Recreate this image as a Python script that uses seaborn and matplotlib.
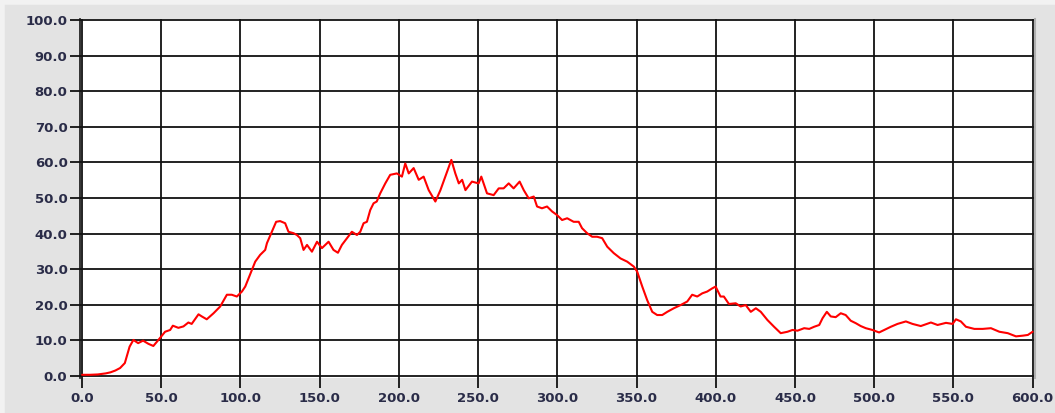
import matplotlib
matplotlib.use('Agg')
import matplotlib.pyplot as plt
from matplotlib.lines import Line2D
import pandas as pd
import seaborn as sns

sns.set_style('white')
plt.rcParams['font.family'] = ['DejaVu Sans']

# values
x_vals = [0, 5, 10, 15, 18, 21, 24, 27, 30, 32.4, 35.4, 38.5, 41.9, 45, 48.2, 52.4,
          55.6, 57.3, 60.8, 64, 67.1, 69.2, 73.5, 75.6, 78.7, 83, 87.2, 91.4, 94.5,
          97.7, 100.9, 103, 107.2, 109.3, 112.4, 115.6, 116.7, 119.8, 122.5, 125,
          128.2, 130.3, 133.5, 135.6, 137.7, 139.8, 142, 145.1, 148.3, 151.4, 155.6,
          158.7, 161.5, 164, 167.2, 170.3, 173.5, 175.6, 177.7, 179.8, 181.9, 184,
          186, 188.2, 191.4, 194.5, 198.7, 201.9, 204, 206.2, 209.3, 212.5, 215.6,
          218.8, 223, 226.2, 229.3, 233.1, 235.6, 237.8, 239.9, 242, 246.1, 250.3,
          252, 255.6, 259.8, 263, 266.1, 269.3, 272.4, 276.2, 278.8, 281.9, 285.1,
          287.2, 290.3, 293.5, 296.7, 299.8, 303, 306.2, 310.3, 313.5, 315.6, 318.8,
          322, 325.1, 328.3, 331.5, 335.6, 339.9, 344.1, 348.3, 350.4, 353.6, 356.7,
          359.9, 363, 366.2, 369.4, 373.5, 377.8, 382, 385.1, 388.3, 391.5, 394.6,
          397.8, 399.9, 403, 405.1, 408.3, 412.6, 415.7, 418.9, 422.1, 425.3, 428.4,
          432.6, 436.8, 441, 445.3, 448.4, 451.6, 455.8, 459, 462.1, 465.3, 467.4,
          470.1, 472.6, 475.7, 478.9, 482, 485.2, 488.4, 491.5, 494.7, 498.9, 503.1,
          506.3, 510.5, 514.7, 520, 524.2, 529.4, 535.8, 540, 545.3, 549.5, 551.6,
          554.7, 557.9, 563.2, 568.5, 573.7, 579, 584.3, 589.5, 593.8, 597, 600]
y_vals = [0.3, 0.3, 0.4, 0.7, 1.0, 1.5, 2.2, 3.6, 8.2, 10.1, 9.2, 9.9, 9.0, 8.4, 10.1, 12.4,
          12.9, 14.1, 13.5, 13.9, 15.0, 14.6, 17.3, 16.7, 15.9, 17.6, 19.5, 22.8, 22.8,
          22.3, 23.7, 25.1, 29.8, 32.1, 34.0, 35.4, 37.3, 40.5, 43.3, 43.5,
          42.9, 40.5, 40.1, 39.6, 38.7, 35.4, 36.8, 34.9, 37.7, 35.9, 37.7,
          35.4, 34.6, 36.8, 38.7, 40.5, 39.6, 40.5, 42.9, 43.3, 46.6, 48.5,
          49.0, 51.3, 54.1, 56.5, 56.9, 56.0, 59.7, 56.9, 58.4, 55.1, 56.0,
          52.2, 49.0, 52.2, 56.0, 60.7, 56.9, 54.1, 55.1, 52.2, 54.6, 54.1,
          56.0, 51.3, 50.8, 52.7, 52.7, 54.1, 52.7, 54.6, 52.2, 49.9, 50.4,
          47.6, 47.1, 47.6, 46.2, 45.2, 43.8, 44.3, 43.3, 43.3, 41.5, 40.1,
          39.1, 39.1, 38.7, 36.3, 34.5, 33.0, 32.1, 30.7, 29.3, 25.1, 21.3,
          18.0, 17.1, 17.1, 18.0, 19.0, 19.9, 20.9, 22.8, 22.3, 23.2, 23.7,
          24.6, 25.1, 22.3, 22.3, 20.2, 20.4, 19.5, 19.9, 18.0, 19.0, 18.0,
          15.7, 13.8, 12.0, 12.4, 12.9, 12.7, 13.4, 13.2, 13.8, 14.3, 16.2,
          18.0, 16.7, 16.5, 17.6, 17.1, 15.5, 14.8, 14.0, 13.4, 12.9, 12.2,
          12.9, 13.8, 14.6, 15.3, 14.6, 14.0, 15.0, 14.3, 14.9, 14.6, 15.9,
          15.3, 13.8, 13.2, 13.2, 13.4, 12.4, 12.0, 11.1, 11.3, 11.5, 12.4]
x_ticks = [0, 50, 100, 150, 200, 250, 300, 350, 400, 450, 500, 550, 600]
y_ticks = [0, 10, 20, 30, 40, 50, 60, 70, 80, 90, 100]

df = pd.DataFrame({'x': x_vals, 'y': y_vals})

fig = plt.figure(figsize=(10.55, 4.13), dpi=100)
fig.patch.set_facecolor('#e3e3e3')
# light frame on top and left edge, like the window border in the reference
fig.add_artist(Line2D([0, 1], [0.994, 0.994], transform=fig.transFigure, color='#f2f2f2', linewidth=4))
fig.add_artist(Line2D([0.002, 0.002], [0, 1], transform=fig.transFigure, color='#f2f2f2', linewidth=4))

ax = fig.add_axes([80 / 1055, 35 / 413, 955 / 1055, 359 / 413])
ax.set_facecolor('white')

sns.lineplot(data=df, x='x', y='y', ax=ax, color='#ff0000', linewidth=1.5,
             estimator=None, sort=False, zorder=3)

ax.set_xlim(-1.3, 601.5)
ax.set_ylim(-0.6, 100.3)
ax.set_xticks(x_ticks)
ax.set_yticks(y_ticks)
ax.set_xticklabels([f'{v:.1f}' for v in x_ticks])
ax.set_yticklabels([f'{v:.1f}' for v in y_ticks])
ax.grid(True, color='#111111', linewidth=1.3)
ax.set_axisbelow(True)
ax.set_xlabel('')
ax.set_ylabel('')

for s in ['top', 'bottom']:
    ax.spines[s].set_visible(False)
ax.spines['left'].set_color('#111111')
ax.spines['left'].set_linewidth(1.2)
ax.spines['right'].set_color('#b0b0b0')
ax.spines['right'].set_linewidth(1.5)

ax.tick_params(axis='both', direction='out', length=7, width=1.3, color='#111111',
               labelsize=9.5, labelcolor='#2a2c48', pad=2)
ax.tick_params(axis='x', bottom=True, pad=3)
ax.tick_params(axis='y', left=True)
for lab in ax.get_xticklabels() + ax.get_yticklabels():
    lab.set_fontweight('semibold')

plt.savefig('out.png', dpi=100, facecolor=fig.get_facecolor())
plt.close()
